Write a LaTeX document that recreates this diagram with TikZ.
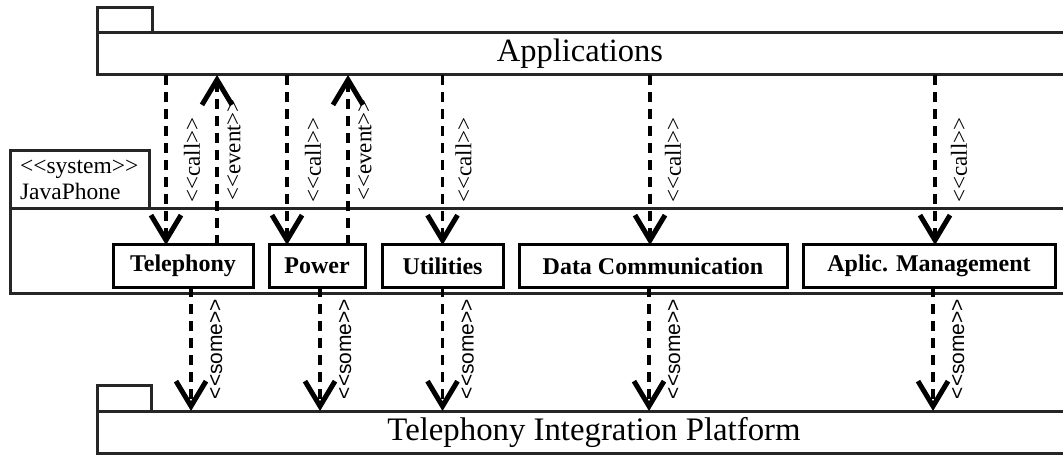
\documentclass[tikz,border=0pt]{standalone}
\usepackage{fontspec}
\setmainfont{Liberation Serif}[Ligatures=TeXOff]
\setsansfont{Liberation Sans}[Ligatures=TeXOff]
\usepackage{tikz}
\usetikzlibrary{arrows.meta,positioning}

\begin{document}
\begin{tikzpicture}[x=1pt,y=-1pt,>={Straight Barb[length=25pt,width=30pt,line width=5pt]},
                    dep/.style={->,line width=3.2pt,dash pattern=on 10pt off 7pt},
                    lbl/.style={midway,xshift=#1,rotate=90,font=\fontsize{23}{23}\selectfont},
                    lbl/.default=26pt]
  \tikzstyle{pkg}=[draw=black!85,line width=3pt,inner sep=0pt,outer sep=0pt]
  \tikzstyle{comp}=[draw=black,line width=3pt,minimum height=42pt,inner sep=0pt,outer sep=0pt,
                    font=\fontsize{24}{24}\selectfont\bfseries]
  \tikzstyle{some}=[lbl=25pt,font=\sffamily\fontsize{21}{21}\selectfont]

  \clip (0,0) rectangle (1063,457);

  % packages
  \node[pkg,minimum width=1000pt,minimum height=42pt] (appbox) at (597,54) {};
  \draw[pkg] (appbox.north west) rectangle ++(55,-25);
  \node[font=\fontsize{32.5}{36}\selectfont] (applbl) at (580,54) {Applications};

  \node[pkg,minimum width=1080pt,minimum height=84pt] (jpbox) at (550,251) {};
  \node[pkg,anchor=south west,minimum width=139pt,minimum height=58pt,inner xsep=10pt,
        text width=119pt,align=left,font=\fontsize{23.5}{26}\selectfont] (jptab)
        at (jpbox.north west) {<<system>>\\JavaPhone};

  \node[pkg,minimum width=1000pt,minimum height=42pt] (tipbox) at (597,432) {};
  \draw[pkg] (tipbox.north west) rectangle ++(54,-26);
  \node[font=\fontsize{32.8}{36}\selectfont] (tiplbl) at (594,432) {Telephony Integration Platform};

  % components
  \node[comp,minimum width=140pt] (tel) at (183,266) {Telephony};
  \node[comp,minimum width=96pt]  (pow) [right=16pt of tel]  {Power};
  \node[comp,minimum width=121pt] (util) [right=17pt of pow] {Utilities};
  \node[comp,minimum width=268pt] (dc) [right=16pt of util]  {Data Communication};
  \node[comp,minimum width=252pt] (am) [right=16pt of dc]    {Aplic. Management};

  % calls and events
  \draw[dep] ([xshift=-17pt]tel.north |- appbox.south) -- node[lbl] {<<call>>} ([xshift=-17pt]tel.north);
  \draw[dep] ([xshift=34pt]tel.north) -- node[lbl=17pt,xshift=10pt] {<<event>>} ([xshift=34pt]tel.north |- appbox.south);
  \draw[dep] ([xshift=-30pt]pow.north |- appbox.south) -- node[lbl] {<<call>>} ([xshift=-30pt]pow.north);
  \draw[dep] ([xshift=31pt]pow.north) -- node[lbl=17pt,xshift=10pt] {<<event>>} ([xshift=31pt]pow.north |- appbox.south);
  \draw[dep] (util.north |- appbox.south) -- node[lbl=21pt] {<<call>>} (util.north);
  \draw[dep] ([xshift=-3pt]dc.north |- appbox.south) -- node[lbl=23pt] {<<call>>} ([xshift=-3pt]dc.north);
  \draw[dep] ([xshift=6pt]am.north |- appbox.south) -- node[lbl=24pt] {<<call>>} ([xshift=6pt]am.north);

  % some
  \draw[dep] ([xshift=8pt]tel.south) -- node[some] {<<some>>} ([xshift=8pt]tel.south |- tipbox.north);
  \draw[dep] ([xshift=3pt]pow.south) -- node[some] {<<some>>} ([xshift=3pt]pow.south |- tipbox.north);
  \draw[dep] (util.south) -- node[some] {<<some>>} (util.south |- tipbox.north);
  \draw[dep] ([xshift=-4pt]dc.south) -- node[some] {<<some>>} ([xshift=-4pt]dc.south |- tipbox.north);
  \draw[dep] ([xshift=4pt]am.south) -- node[some] {<<some>>} ([xshift=4pt]am.south |- tipbox.north);
\end{tikzpicture}
\end{document}
